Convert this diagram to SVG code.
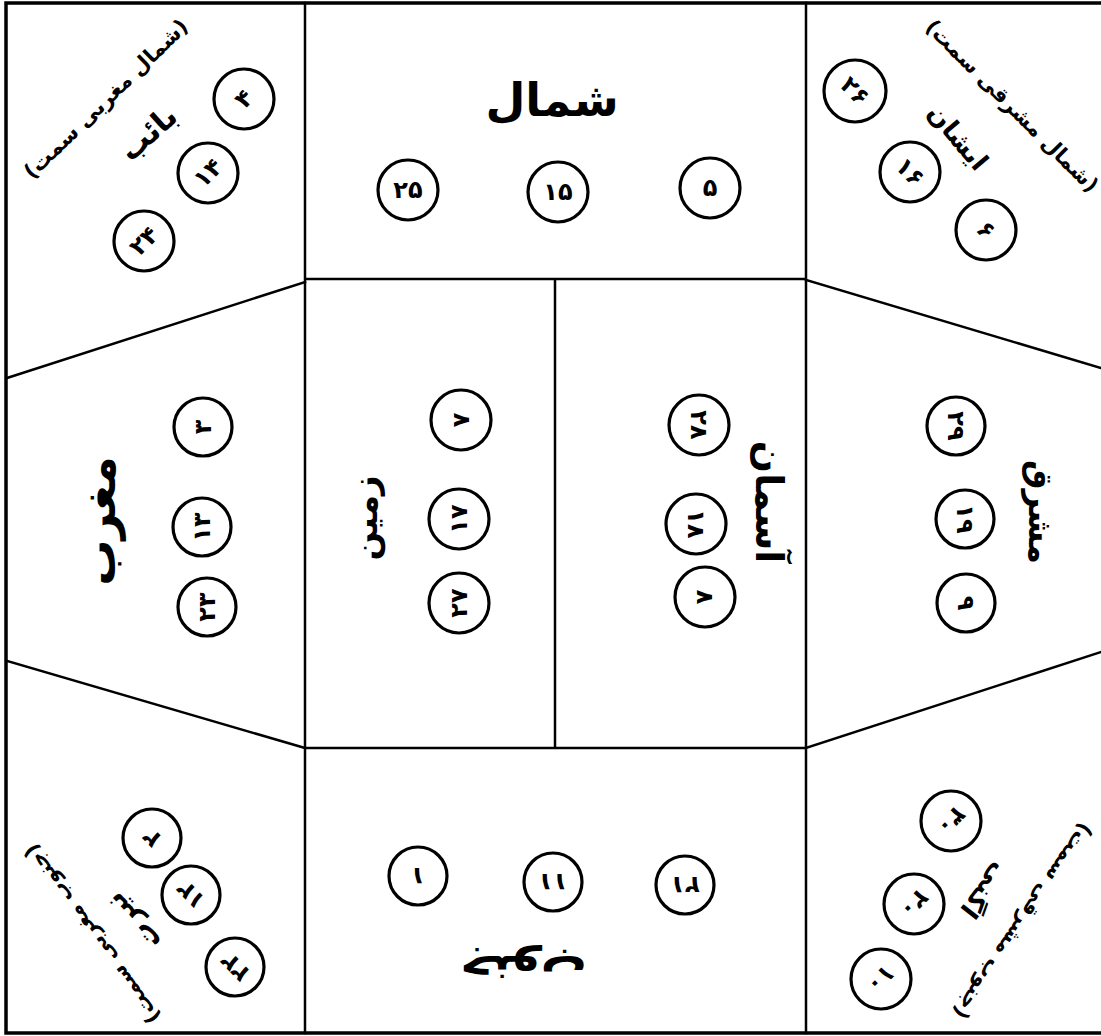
<svg xmlns="http://www.w3.org/2000/svg" width="1101" height="1036" viewBox="0 0 1101 1036">
<style>
.ln{fill:none;stroke:#000;stroke-width:2.5;stroke-linecap:square}
.bd{fill:none;stroke:#000;stroke-width:3.5}
.c{fill:#fff;stroke:#000;stroke-width:3.2}
.n{font-family:"DejaVu Sans",sans-serif;font-weight:bold;font-size:24px;fill:#000;text-anchor:middle;dominant-baseline:central}
.t{font-family:"DejaVu Sans",sans-serif;font-weight:bold;fill:#000;text-anchor:middle;dominant-baseline:central}
.cl{font-size:21px}
</style>
<rect width="1101" height="1036" fill="#fff"/>
<g id="connectors">
<path class="bd" d="M1101 3 H6 V1033 H1101"/>
<path class="ln" d="M305 3 V1033 M806 3 V1033 M305 279 H806 M305 748 H806 M555 279 V748"/>
<path class="ln" d="M305 282 L7 378 M7 661 L305 748 M806 280 L1101 368 M806 748 L1101 652"/>
</g>
<g id="north">
<text class="t" font-size="46" transform="translate(552,100)">شمال</text>
<circle class="c" cx="408" cy="190" r="30"/><text class="n" x="408" y="190">۲۵</text>
<circle class="c" cx="558" cy="192" r="30"/><text class="n" x="558" y="192">۱۵</text>
<circle class="c" cx="710" cy="188" r="30"/><text class="n" x="710" y="188">۵</text>
</g>
<g id="north-west">
<text class="t cl" transform="translate(106,99) rotate(-44)">(شمال مغربی سمت)</text>
<text class="t" font-size="30" transform="translate(148,133) rotate(-42)">بائب</text>
<circle class="c" cx="244" cy="99" r="30"/><text class="n" transform="translate(244,99) rotate(-45)">۴</text>
<circle class="c" cx="208" cy="173" r="30"/><text class="n" transform="translate(208,173) rotate(-45)">۱۴</text>
<circle class="c" cx="144" cy="241" r="30"/><text class="n" transform="translate(144,241) rotate(-45)">۲۴</text>
</g>
<g id="north-east">
<text class="t cl" transform="translate(1012,106) rotate(45)">(شمال مشرقی سمت)</text>
<text class="t" font-size="26" transform="translate(958,137) rotate(50)">ایشان</text>
<circle class="c" cx="855" cy="91" r="31"/><text class="n" transform="translate(855,91) rotate(45)">۲۶</text>
<circle class="c" cx="910" cy="172" r="30"/><text class="n" transform="translate(910,172) rotate(45)">۱۶</text>
<circle class="c" cx="986" cy="230" r="30"/><text class="n" transform="translate(986,230) rotate(45)">۶</text>
</g>
<g id="west">
<text class="t" font-size="46" transform="translate(99,521) rotate(-90)">مغرب</text>
<circle class="c" cx="203" cy="427" r="29"/><text class="n" transform="translate(203,427) rotate(-90)">۳</text>
<circle class="c" cx="202" cy="527" r="29"/><text class="n" transform="translate(202,527) rotate(-90)">۱۳</text>
<circle class="c" cx="207" cy="607" r="29"/><text class="n" transform="translate(207,607) rotate(-90)">۲۳</text>
</g>
<g id="earth">
<text class="t" font-size="34" transform="translate(365,518) rotate(-90)">زمین</text>
<circle class="c" cx="461" cy="420" r="30"/><text class="n" transform="translate(461,420) rotate(-90)">۷</text>
<circle class="c" cx="459" cy="519" r="30"/><text class="n" transform="translate(459,519) rotate(-90)">۱۷</text>
<circle class="c" cx="459" cy="603" r="30"/><text class="n" transform="translate(459,603) rotate(-90)">۲۷</text>
</g>
<g id="sky">
<text class="t" font-size="38" transform="translate(769,502) rotate(90)">آسمان</text>
<circle class="c" cx="699" cy="425" r="30"/><text class="n" transform="translate(699,425) rotate(90)">۲۸</text>
<circle class="c" cx="696" cy="524" r="30"/><text class="n" transform="translate(696,524) rotate(90)">۱۸</text>
<circle class="c" cx="705" cy="597" r="30"/><text class="n" transform="translate(705,597) rotate(90)">۸</text>
</g>
<g id="east">
<text class="t" font-size="33" transform="translate(1040,512) rotate(90)">مشرق</text>
<circle class="c" cx="956" cy="426" r="29"/><text class="n" transform="translate(956,426) rotate(90)">۲۹</text>
<circle class="c" cx="965" cy="519" r="29"/><text class="n" transform="translate(965,519) rotate(90)">۱۹</text>
<circle class="c" cx="966" cy="603" r="29"/><text class="n" transform="translate(966,603) rotate(90)">۹</text>
</g>
<g id="south-west">
<text class="t cl" transform="translate(92,934) rotate(-126)">(جنوب مغربی سمت)</text>
<text class="t" font-size="28" transform="translate(133,922) rotate(-132)">نیرت</text>
<circle class="c" cx="152" cy="838" r="29"/><text class="n" transform="translate(152,838) rotate(-135)">۲</text>
<circle class="c" cx="191" cy="895" r="29"/><text class="n" transform="translate(191,895) rotate(-135)">۱۲</text>
<circle class="c" cx="235" cy="967" r="29"/><text class="n" transform="translate(235,967) rotate(-135)">۲۲</text>
</g>
<g id="south">
<text class="t" font-size="46" transform="translate(523,972) rotate(180)">جنوب</text>
<circle class="c" cx="418" cy="876" r="29"/><text class="n" transform="translate(418,876) rotate(180)">۱</text>
<circle class="c" cx="553" cy="882" r="29"/><text class="n" transform="translate(553,882) rotate(180)">۱۱</text>
<circle class="c" cx="685" cy="885" r="29"/><text class="n" transform="translate(685,885) rotate(180)">۲۱</text>
</g>
<g id="south-east">
<text class="t cl" transform="translate(1023,921) rotate(124)">(جنوب مشرقی سمت)</text>
<text class="t" font-size="26" transform="translate(985,891) rotate(128)">اگنی</text>
<circle class="c" cx="951" cy="821" r="30"/><text class="n" transform="translate(951,821) rotate(135)">۳۰</text>
<circle class="c" cx="914" cy="904" r="30"/><text class="n" transform="translate(914,904) rotate(135)">۲۰</text>
<circle class="c" cx="881" cy="979" r="30"/><text class="n" transform="translate(881,979) rotate(135)">۱۰</text>
</g>
</svg>
